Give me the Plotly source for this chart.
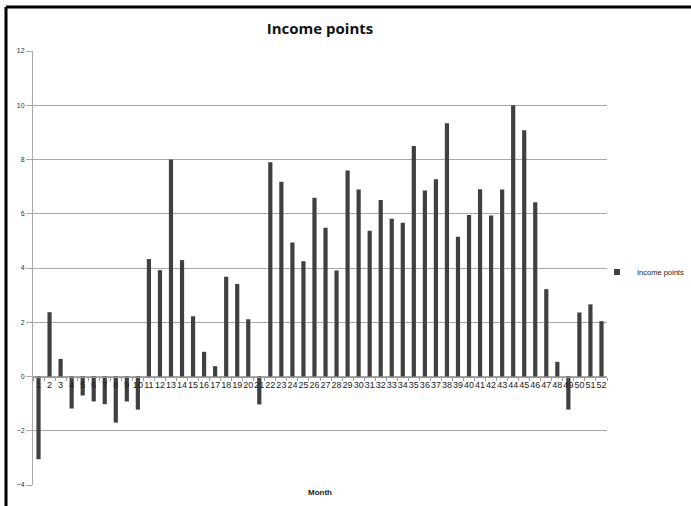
import plotly.graph_objects as go

# Monthly income points, months 1..52
months = [str(m) for m in range(1, 53)]
income_points = [
    -3.05, 2.37, 0.65, -1.18, -0.70, -0.92, -1.02, -1.70, -0.92, -1.22,
    4.33, 3.92, 8.0, 4.29, 2.22, 0.91, 0.38, 3.68, 3.41, 2.11,
    -1.03, 7.90, 7.18, 4.94, 4.25, 6.59, 5.48, 3.91, 7.59, 6.89,
    5.37, 6.51, 5.82, 5.67, 8.50, 6.86, 7.27, 9.34, 5.15, 5.95,
    6.90, 5.94, 6.89, 10.0, 9.08, 6.42, 3.22, 0.54, -1.22, 2.36,
    2.66, 2.04,
]
y_ticks = [-4, -2, 0, 2, 4, 6, 8, 10, 12]

W, H = 691, 506
L, R, T, B = 33, 84, 51, 21
BAR_COLOR = "#404040"

fig = go.Figure()
fig.add_trace(go.Bar(
    x=months,
    y=income_points,
    name="Income points",
    marker=dict(color=BAR_COLOR, line=dict(width=0)),
    width=0.38,
    showlegend=False,
))
# Legend entry with a small square swatch
fig.add_trace(go.Scatter(
    x=[None], y=[None],
    mode="markers",
    name="Income points",
    marker=dict(symbol="square", size=6, color=BAR_COLOR),
    showlegend=True,
))

fig.update_layout(
    width=W,
    height=H,
    margin=dict(l=L, r=R, t=T, b=B, pad=0, autoexpand=False),
    paper_bgcolor="white",
    plot_bgcolor="white",
    font=dict(family="Liberation Sans, Arial, sans-serif", color="#222"),
    title=dict(
        text="<b>Income points</b>",
        x=(L + (W - R)) / 2 / W,
        xanchor="center",
        y=1 - 29 / H,
        yanchor="middle",
        font=dict(family="Open Sans, Liberation Sans, sans-serif", size=15, color="#111"),
    ),
    legend=dict(
        xref="container",
        yref="container",
        x=597 / W,
        y=1 - 272 / H,
        xanchor="left",
        yanchor="middle",
        font=dict(size=7.5, color="#222"),
        itemwidth=30,
        bgcolor="rgba(0,0,0,0)",
        tracegroupgap=0,
    ),
    showlegend=True,
    bargap=0.62,
    xaxis=dict(
        type="category",
        categoryorder="array",
        categoryarray=months,
        anchor="free",
        position=4 / 16,  # pin the category axis to the zero value
        showline=True,
        linecolor="#9a9a9a",
        linewidth=1,
        ticks="outside",
        tickson="boundaries",
        ticklen=3,
        tickcolor="#9a9a9a",
        tickmode="linear",
        tick0=0,
        dtick=1,
        showgrid=False,
        tickfont=dict(size=9, color="#222"),
        tickangle=0,
        range=[-0.5, 51.5],
    ),
    yaxis=dict(
        range=[-4, 12],
        tickvals=y_ticks,
        showgrid=True,
        gridcolor="#a8a8a8",
        gridwidth=1,
        zeroline=False,
        showline=True,
        linecolor="#a8a8a8",
        ticks="outside",
        ticklen=6,
        tickcolor="#a8a8a8",
        tickfont=dict(size=7, color="#333"),
    ),
)

# Axis title underneath the plot
fig.add_annotation(
    text="<b>Month</b>",
    xref="paper", yref="paper",
    x=(320 - L) / (W - L - R), y=-(492 - (H - B)) / (H - T - B),
    xanchor="center", yanchor="middle",
    showarrow=False,
    font=dict(size=8, color="#222"),
)

# Dark frame along the top and left of the chart
plot_w = W - L - R
plot_h = H - T - B
top_y = (H - B - 7) / plot_h
left_x = (6 - L) / plot_w
fig.add_shape(type="line", xref="paper", yref="paper",
              x0=left_x, x1=(W - L + 5) / plot_w, y0=top_y, y1=top_y,
              line=dict(color="black", width=3))
fig.add_shape(type="line", xref="paper", yref="paper",
              x0=left_x, x1=left_x, y0=top_y, y1=-(B + 5) / plot_h,
              line=dict(color="black", width=3))

fig.write_html("out.html")
